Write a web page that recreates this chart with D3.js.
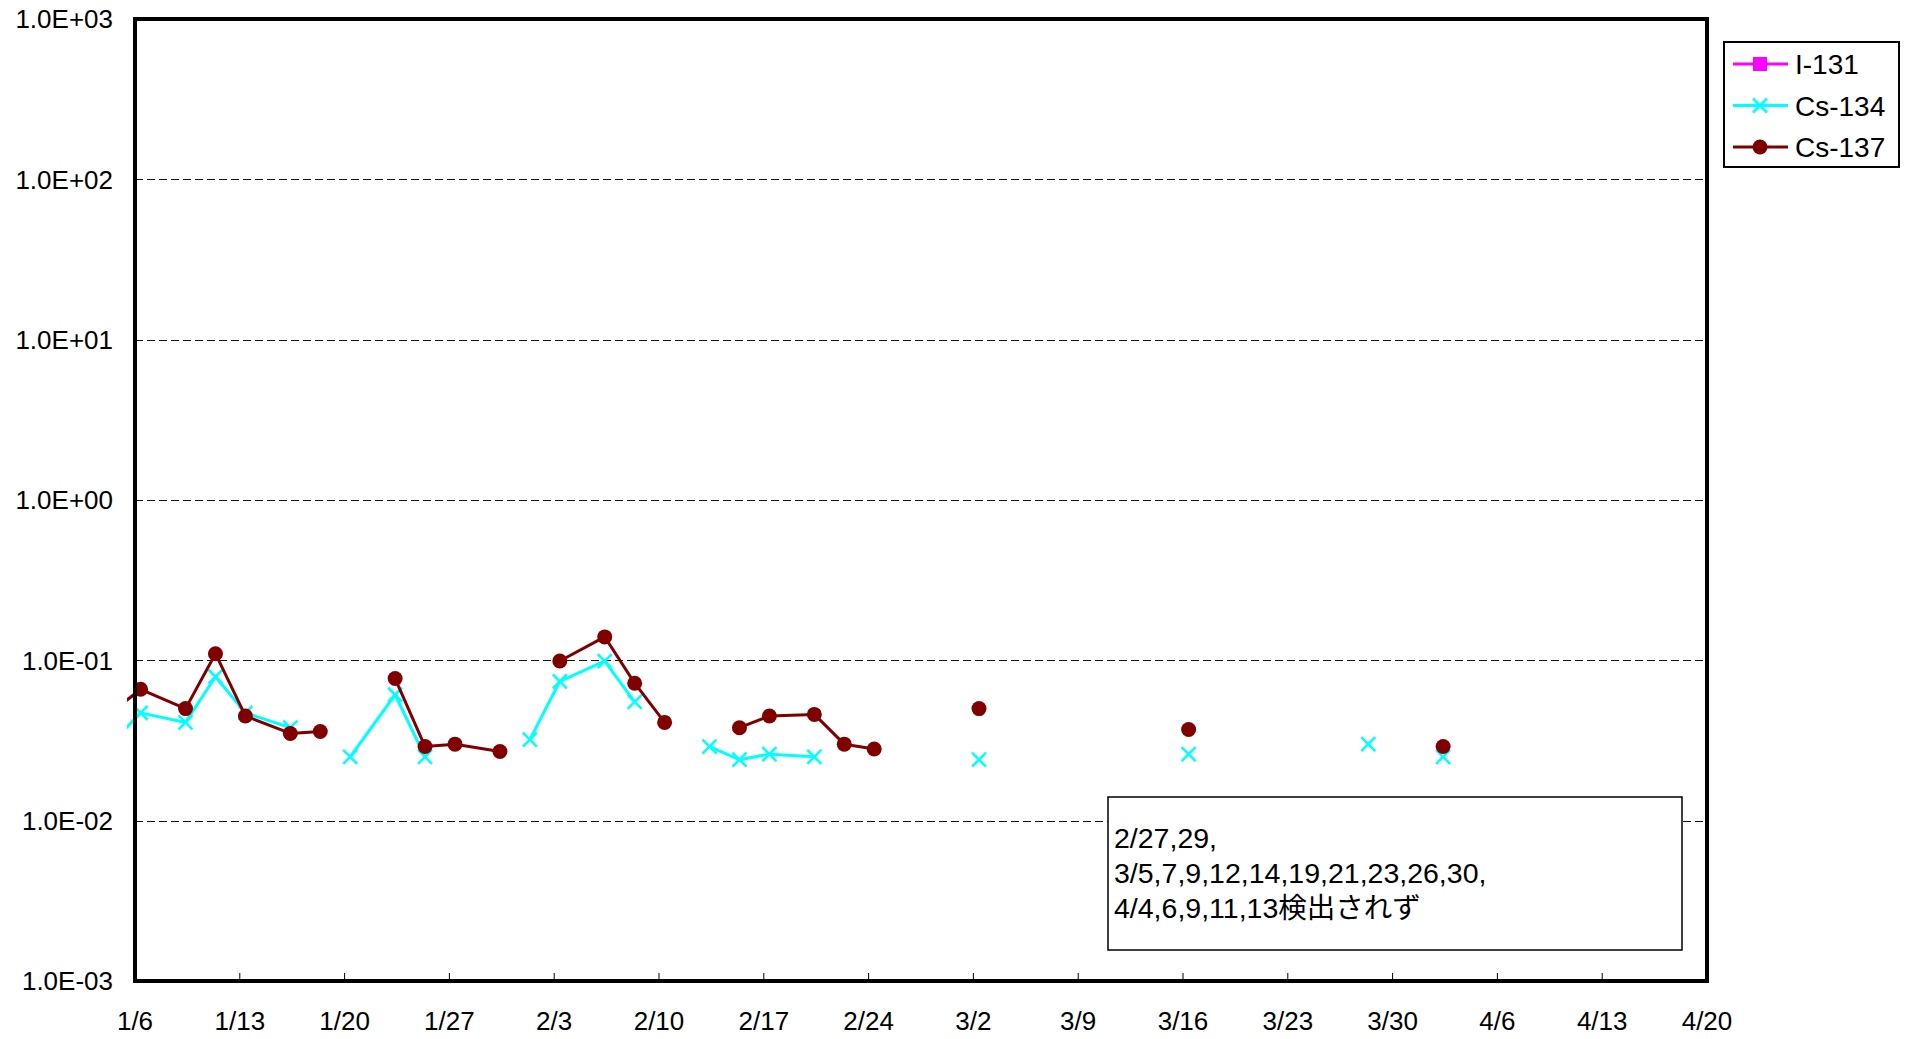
<!DOCTYPE html>
<html>
<head>
<meta charset="utf-8">
<script src="https://cdn.jsdelivr.net/npm/d3@7"></script>
<style>
body { margin: 0; background: #fff; }
svg { display: block; font-family: "Liberation Sans", Arial, "Noto Sans CJK JP", sans-serif; }
</style>
</head>
<body>
<svg id="chart" width="1912" height="1039"></svg>
<script>
// sampling dates (2012), null = not detected
var dates = ["2012-01-04", "2012-01-06", "2012-01-09", "2012-01-11", "2012-01-13", "2012-01-16", "2012-01-18",
  "2012-01-20", "2012-01-23", "2012-01-25", "2012-01-27", "2012-01-30", "2012-02-01", "2012-02-03",
  "2012-02-06", "2012-02-08", "2012-02-10", "2012-02-13", "2012-02-15", "2012-02-17", "2012-02-20",
  "2012-02-22", "2012-02-24", "2012-02-27", "2012-02-29", "2012-03-02", "2012-03-05", "2012-03-07",
  "2012-03-09", "2012-03-12", "2012-03-14", "2012-03-16", "2012-03-19", "2012-03-21", "2012-03-23",
  "2012-03-26", "2012-03-28", "2012-03-30", "2012-04-02", "2012-04-04", "2012-04-06", "2012-04-09",
  "2012-04-11", "2012-04-13"];

var i131 = [];  // never detected in this period

var cs134 = [0.030, 0.047, 0.041, 0.079, 0.047, 0.038, null,
  0.025, 0.061, 0.025, null, null, 0.032, 0.074,
  0.099, 0.055, null, 0.029, 0.024, 0.026, 0.025,
  null, null, null, null, 0.024, null, null,
  null, null, null, 0.026, null, null, null,
  null, 0.030, null, 0.025, null, null, null,
  null, null];

var cs137 = [0.047, 0.066, 0.050, 0.110, 0.045, 0.035, 0.036,
  null, 0.077, 0.029, 0.030, 0.027, null, 0.099,
  0.140, 0.072, 0.041, null, 0.038, 0.045, 0.046,
  0.030, 0.028, null, null, 0.050, null, null,
  null, null, null, 0.037, null, null, null,
  null, null, null, 0.029, null, null, null,
  null, null];

var yTicks = [1e-3, 1e-2, 1e-1, 1e0, 1e1, 1e2, 1e3];
var xStart = "2012-01-06", xEnd = "2012-04-20";
var noteLines = ["2/27,29,", "3/5,7,9,12,14,19,21,23,26,30,", "4/4,6,9,11,13検出されず"];

var series = [
  {name: "I-131", values: i131, color: "#ff00ff", marker: "square"},
  {name: "Cs-134", values: cs134, color: "#00ffff", marker: "cross"},
  {name: "Cs-137", values: cs137, color: "#800000", marker: "circle"}
];

var parse = d3.timeParse("%Y-%m-%d");
var pl = 135, pr = 1707, pt = 19, pb = 981;

var svg = d3.select("#chart");

var x = d3.scaleTime().domain([parse(xStart), parse(xEnd)]).range([pl, pr]);
var y = d3.scaleLog().domain([1e-3, 1e3]).range([pb, pt]);

// points sit a bit after midnight on the date axis
function px(i) { return x(d3.timeHour.offset(parse(dates[i]), 9)); }

function sci(v) {
  var e = Math.round(Math.log10(v));
  return "1.0E" + (e < 0 ? "-" : "+") + String(Math.abs(e)).padStart(2, "0");
}

// gridlines
svg.append("g").selectAll("line")
  .data(yTicks.slice(1, -1))
  .join("line")
  .attr("x1", pl).attr("x2", pr)
  .attr("y1", d => Math.round(y(d)) + 0.5).attr("y2", d => Math.round(y(d)) + 0.5)
  .attr("stroke", "#111").attr("stroke-width", 1)
  .attr("stroke-dasharray", "8,4");

// y labels
svg.append("g").selectAll("text")
  .data(yTicks)
  .join("text")
  .attr("x", pl - 22).attr("y", d => y(d))
  .attr("dy", "0.36em")
  .attr("text-anchor", "end")
  .style("font-size", "26px")
  .text(sci);

// x axis ticks and labels
var xTicks = d3.timeDay.range(parse(xStart), d3.timeDay.offset(parse(xEnd), 1), 7);
var fmt = d3.timeFormat("%-m/%-d");
svg.append("g").selectAll("line")
  .data(xTicks)
  .join("line")
  .attr("x1", d => x(d)).attr("x2", d => x(d))
  .attr("y1", pb).attr("y2", pb - 8)
  .attr("stroke", "#000").attr("stroke-width", 1);
svg.append("g").selectAll("text")
  .data(xTicks)
  .join("text")
  .attr("x", d => x(d)).attr("y", 1030)
  .attr("text-anchor", "middle")
  .style("font-size", "26px")
  .text(fmt);

// note box
var note = svg.append("g");
note.append("rect")
  .attr("x", 1108).attr("y", 797).attr("width", 574).attr("height", 153)
  .attr("fill", "#fff").attr("stroke", "#000").attr("stroke-width", 1.5);
note.selectAll("text")
  .data(noteLines)
  .join("text")
  .attr("x", 1114).attr("y", (d, i) => 848 + i * 35)
  .style("font-size", "28.5px")
  .text(d => d);

// series
svg.append("clipPath").attr("id", "clip")
  .append("rect").attr("x", pl - 8).attr("y", pt).attr("width", pr - pl + 8).attr("height", pb - pt);

function drawMarker(g, type, color, cx, cy) {
  if (type === "circle") {
    g.append("circle").attr("cx", cx).attr("cy", cy).attr("r", 7.5).attr("fill", color);
  } else if (type === "square") {
    g.append("rect").attr("x", cx - 7).attr("y", cy - 7).attr("width", 14).attr("height", 14).attr("fill", color);
  } else {
    g.append("path")
      .attr("d", `M${cx - 7},${cy - 7}L${cx + 7},${cy + 7}M${cx - 7},${cy + 7}L${cx + 7},${cy - 7}`)
      .attr("stroke", color).attr("stroke-width", 2.5);
  }
}

var plot = svg.append("g").attr("clip-path", "url(#clip)");
series.forEach(s => {
  var pts = dates.map((d, i) => ({i: i, v: s.values[i] == null ? null : s.values[i]}));
  var line = d3.line()
    .defined(d => d.v != null)
    .x(d => px(d.i))
    .y(d => y(d.v));
  var g = plot.append("g");
  g.append("path")
    .attr("d", line(pts))
    .attr("fill", "none")
    .attr("stroke", s.color)
    .attr("stroke-width", 3)
    .attr("stroke-linejoin", "round");
  pts.filter(d => d.v != null && px(d.i) > pl).forEach(d => drawMarker(g, s.marker, s.color, px(d.i), y(d.v)));
});

// plot frame
svg.append("rect")
  .attr("x", pl).attr("y", pt)
  .attr("width", pr - pl).attr("height", pb - pt)
  .attr("fill", "none").attr("stroke", "#000").attr("stroke-width", 4);

// legend
var lg = svg.append("g");
lg.append("rect")
  .attr("x", 1724).attr("y", 42).attr("width", 175).attr("height", 125)
  .attr("fill", "#fff").attr("stroke", "#000").attr("stroke-width", 2);
series.forEach((s, i) => {
  var cy = 64 + i * 41.5;
  var row = lg.append("g");
  row.append("line").attr("x1", 1733).attr("x2", 1788).attr("y1", cy).attr("y2", cy)
    .attr("stroke", s.color).attr("stroke-width", 3);
  drawMarker(row, s.marker, s.color, 1760, cy);
  row.append("text").attr("x", 1795).attr("y", cy).attr("dy", "0.36em")
    .style("font-size", "28px").text(s.name);
});
</script>
</body>
</html>
